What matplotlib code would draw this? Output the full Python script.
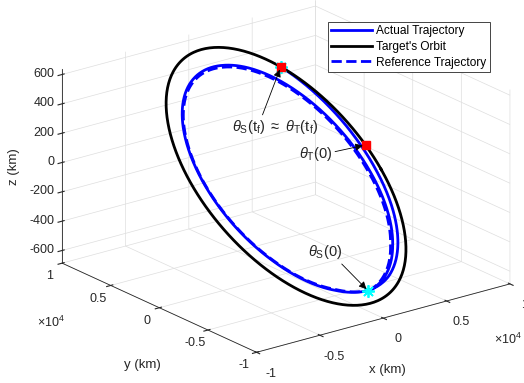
import numpy as np
import matplotlib
matplotlib.use('Agg')
import matplotlib.pyplot as plt
from mpl_toolkits.mplot3d import proj3d

plt.rcParams['font.family'] = ['Liberation Sans', 'DejaVu Sans']
plt.rcParams['mathtext.fontset'] = 'custom'
plt.rcParams['mathtext.rm'] = 'Liberation Sans'
plt.rcParams['mathtext.it'] = 'Liberation Sans:italic'
plt.rcParams['grid.color'] = '#dedede'
plt.rcParams['grid.linewidth'] = 0.5
plt.rcParams['axes.edgecolor'] = '0.15'

# target orbit geometry (km)
orbit_radius = 7510.0
orbit_z_center = -24.0
orbit_z_cos = -128.0
orbit_z_sin = 650.0

# actual trajectory: angle along the orbit (deg) and size relative to target orbit
actual_theta = [-79, -40, 0, 45, 90, 135, 180, 225, 260, 281, 300, 330, 360, 375, 390, 415]
actual_ratio = [0.917, 0.89, 0.876, 0.866, 0.862, 0.865, 0.87, 0.876, 0.89, 0.912,
                0.925, 0.935, 0.945, 0.955, 0.97, 1.0]

# reference trajectory
ref_theta = [-79, -40, 0, 45, 90, 135, 180, 225, 260, 281]
ref_ratio = [0.917, 0.872, 0.858, 0.85, 0.848, 0.855, 0.865, 0.87, 0.882, 0.912]

# markers: target at t=0 and t_f, satellite at t=0 and t_f
target_theta = [11, 55]
sat_theta = [-79, 55]
sat_ratio = [0.917, 1.0]

xy_ticks = [-1e4, -5e3, 0, 5e3, 1e4]
xy_ticklabels = ['-1', '-0.5', '0', '0.5', '1']
z_ticks = [-600, -400, -200, 0, 200, 400, 600]


def orbit_pts(theta_deg, ratio):
    th = np.radians(np.asarray(theta_deg, dtype=float))
    k = np.asarray(ratio, dtype=float)
    x = orbit_radius * k * np.cos(th)
    y = orbit_radius * k * np.sin(th)
    z = orbit_z_center + k * (orbit_z_cos * np.cos(th) + orbit_z_sin * np.sin(th))
    return x, y, z


fig = plt.figure(figsize=(5.24, 3.83), dpi=100)
ax = fig.add_axes([0.036, 0.026, 1.0, 1.0], projection='3d', proj_type='ortho')
ax.view_init(elev=20.6, azim=-127.5)
ax.set_box_aspect((1, 1, 0.65), zoom=1.26)

th = np.linspace(actual_theta[0], actual_theta[-1], 800)
xa, ya, za = orbit_pts(th, np.interp(th, actual_theta, actual_ratio))
th_b = np.linspace(0, 360, 400)
xb, yb, zb = orbit_pts(th_b, np.ones_like(th_b))
th_r = np.linspace(ref_theta[0], ref_theta[-1], 600)
xr, yr, zr = orbit_pts(th_r, np.interp(th_r, ref_theta, ref_ratio))

ax.plot(xa, ya, za, color='b', lw=2, label='Actual Trajectory')
ax.plot(xb, yb, zb, color='k', lw=2, label="Target's Orbit")
ax.plot(xr, yr, zr, color='b', lw=2, ls='--', label='Reference Trajectory')

xs, ys, zs = orbit_pts(sat_theta, sat_ratio)
ax.plot(xs, ys, zs, ls='none', marker=(8, 2, 0), ms=9, mew=1.3, color='cyan')
xt, yt, zt = orbit_pts(target_theta, [1, 1])
ax.plot(xt, yt, zt, ls='none', marker='s', ms=6, color='red', mec='red')

ax.set_xlim(-1e4, 1e4)
ax.set_ylim(-1e4, 1e4)
ax.set_zlim(zb.min(), zb.max())
ax.set_xticks(xy_ticks)
ax.set_xticklabels(xy_ticklabels)
ax.set_yticks(xy_ticks)
ax.set_yticklabels(xy_ticklabels)
ax.set_zticks(z_ticks)
ax.set_zticklabels([str(v) for v in z_ticks])
ax.tick_params(labelsize=9, colors='0.15')
ax.tick_params(axis='x', pad=2.8)
ax.tick_params(axis='y', pad=-0.8)
ax.tick_params(axis='z', pad=-5.5)
for t in ax.xaxis.get_major_ticks() + ax.yaxis.get_major_ticks():
    t.label1.set_verticalalignment('center')
for t in ax.zaxis.get_major_ticks():
    t.label1.set_horizontalalignment('right')
    t.label1.set_verticalalignment('center')

for a in (ax.xaxis, ax.yaxis, ax.zaxis):
    a.set_pane_color((1, 1, 1, 0))
    a.pane.set_edgecolor((1, 1, 1, 0))
    a.line.set_color('0.15')
    a.line.set_linewidth(0.6)

# axis labels kept horizontal like the original
fig.text(0.739, 0.034, 'x (km)', fontsize=9.5, color='0.15', ha='center', va='center')
fig.text(0.271, 0.047, 'y (km)', fontsize=9.5, color='0.15', ha='center', va='center')
fig.text(0.027, 0.564, 'z (km)', fontsize=9.5, color='0.15', ha='center', va='center', rotation=90)

fig.text(0.097, 0.157, r'$\times10^{4}$', fontsize=9, color='0.15', ha='center', va='center')
fig.text(0.969, 0.115, r'$\times10^{4}$', fontsize=9, color='0.15', ha='center', va='center')

leg = ax.legend(loc='upper right', bbox_to_anchor=(0.935, 0.943), bbox_transform=fig.transFigure,
                fontsize=8.6, fancybox=False, framealpha=1, edgecolor='0.15',
                handlelength=3.4, handletextpad=0.35, labelspacing=0.3, borderpad=0.3,
                borderaxespad=0)
leg.get_frame().set_linewidth(0.6)

# annotations pointing at markers, projected through the 3D axes
M = ax.get_proj()
arrow = dict(arrowstyle='-|>', color='k', lw=0.6, mutation_scale=11, shrinkA=0, shrinkB=2)
p0, q0, _ = proj3d.proj_transform(xt[1], yt[1], zt[1], M)
ax.annotate(r'$\theta_{\rm S}({\rm t_f})\ \approx\ \theta_{\rm T}({\rm t_f})$', xy=(p0, q0),
            xytext=(-4, -43), textcoords='offset points', ha='center', va='center',
            fontsize=10.5, color='0.15', arrowprops=dict(arrow, relpos=(0.34, 1)))
p1, q1, _ = proj3d.proj_transform(xt[0], yt[0], zt[0], M)
ax.annotate(r'$\theta_{\rm T}(0)$', xy=(p1, q1), xytext=(-36, -6.5), textcoords='offset points',
            ha='center', va='center', fontsize=10.5, color='0.15',
            arrowprops=dict(arrow, relpos=(1, 0.6)))
p2, q2, _ = proj3d.proj_transform(xs[0], ys[0], zs[0], M)
ax.annotate(r'$\theta_{\rm S}(0)$', xy=(p2, q2), xytext=(-31, 28), textcoords='offset points',
            ha='center', va='center', fontsize=10.5, color='0.15',
            arrowprops=dict(arrow, relpos=(0.9, 0)))

fig.savefig('out.png', dpi=100)
